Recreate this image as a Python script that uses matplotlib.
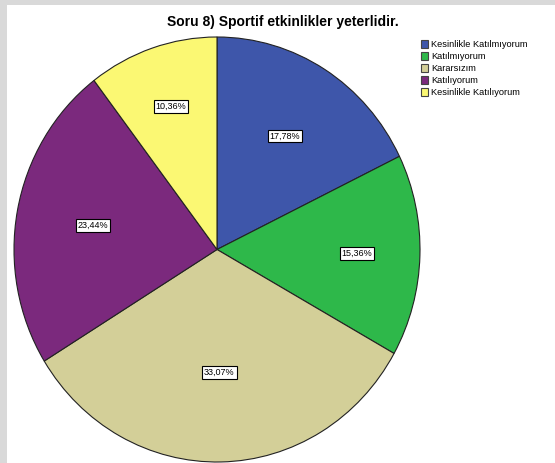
import numpy as np
import matplotlib.pyplot as plt
from matplotlib.patches import Rectangle

# survey answers and their shares (%)
categories = ['Kesinlikle Katılmıyorum', 'Katılmıyorum', 'Kararsızım',
              'Katılıyorum', 'Kesinlikle Katılıyorum']
shares = [17.78, 15.36, 33.07, 23.44, 10.36]
share_labels = ['17,78%', '15,36%', '33,07%', '23,44%', '10,36%']
colors = ['#3E56AA', '#2EB84A', '#D3CF98', '#7B297D', '#FBF873']

W, H = 555, 463
fig = plt.figure(figsize=(W / 100, H / 100), dpi=100)
fig.patch.set_facecolor('#D9D9D9')
fig.patches.append(Rectangle((7 / W, 0), 1, (H - 5) / H, transform=fig.transFigure,
                             facecolor='white', edgecolor='none', zorder=-10))

# pie is a little taller than wide in the original
ax = fig.add_axes([14 / W, 1 / H, 406 / W, 425 / H])
ax.patch.set_alpha(0)
wedges, texts = ax.pie(shares, colors=colors, startangle=90, counterclock=False,
                       wedgeprops=dict(edgecolor='#222222', linewidth=0.8))
ax.set_aspect('auto')
ax.set_xlim(-1, 1)
ax.set_ylim(-1, 1)

# label boxes sit at slightly different distances from the centre
label_dist = [0.63, 0.69, 0.58, 0.62, 0.71]
for w, lab, d in zip(wedges, share_labels, label_dist):
    ang = np.deg2rad((w.theta1 + w.theta2) / 2)
    ax.text(d * np.cos(ang), d * np.sin(ang), lab, ha='center', va='center',
            fontsize=6.5, family='Liberation Sans',
            bbox=dict(boxstyle='square,pad=0.2', facecolor='white',
                      edgecolor='black', linewidth=0.8))

fig.text(283 / W, 1 - 22 / H, 'Soru 8) Sportif etkinlikler yeterlidir.',
         ha='center', va='center', fontsize=10, fontweight='bold',
         family='Liberation Sans')

leg = fig.legend(wedges, categories, loc='upper left',
                 bbox_to_anchor=(419 / W, 1 - 38 / H), frameon=False,
                 prop=dict(family='Liberation Sans', size=6.7),
                 handlelength=0.8, handleheight=0.9, handletextpad=0.3,
                 labelspacing=0.32, borderaxespad=0, borderpad=0.2)
for h in leg.legend_handles:
    h.set_edgecolor('#444444')
    h.set_linewidth(0.8)

fig.savefig('out.png', dpi=100, facecolor=fig.get_facecolor())
